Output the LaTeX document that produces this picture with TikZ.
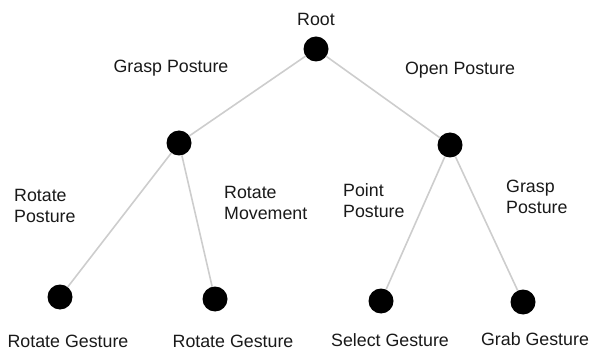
\documentclass[tikz,border=0pt]{standalone}
\usepackage{fontspec}
\setmainfont{Liberation Sans}
\begin{document}
\begin{tikzpicture}[x=1pt,y=-1pt,
  dot/.style={circle,fill=black,inner sep=0pt,minimum size=25pt},
  edge/.style={draw={rgb,255:red,205;green,205;blue,205},line width=1.6pt},
  lbl/.style={font=\fontsize{17.8}{21}\selectfont,inner sep=0pt,align=left,text={rgb,255:red,25;green,25;blue,25}}]
\useasboundingbox (0,0) rectangle (596,352);
\node[dot] (root) at (316,49) {};
\node[dot] (lm) at (179,143) {};
\node[dot] (rm) at (450,145) {};
\node[dot] (l1) at (60,297) {};
\node[dot] (l2) at (215,299) {};
\node[dot] (l3) at (381,301) {};
\node[dot] (l4) at (523,302) {};
\path[edge] (root) -- (lm);
\path[edge] (root) -- (rm);
\path[edge] (lm) -- (l1);
\path[edge] (lm) -- (l2);
\path[edge] (rm) -- (l3);
\path[edge] (rm) -- (l4);
\node[lbl] (troot) at (316,19) {Root};
\node[lbl] (tgp) at (171,68) {Grasp Posture};
\node[lbl] (top) at (460,70) {Open Posture};
\node[lbl,anchor=west] (trp) at (14,206) {Rotate\\Posture};
\node[lbl,anchor=west] (trm) at (224,203) {Rotate\\Movement};
\node[lbl,anchor=west] (tpp) at (343,201) {Point\\Posture};
\node[lbl,anchor=west] (tgp2) at (506,197) {Grasp\\Posture};
\node[lbl] (tl1) at (68,341) {Rotate Gesture};
\node[lbl] (tl2) at (233,341) {Rotate Gesture};
\node[lbl] (tl3) at (390,340) {Select Gesture};
\node[lbl] (tl4) at (535,339) {Grab Gesture};
\end{tikzpicture}
\end{document}
